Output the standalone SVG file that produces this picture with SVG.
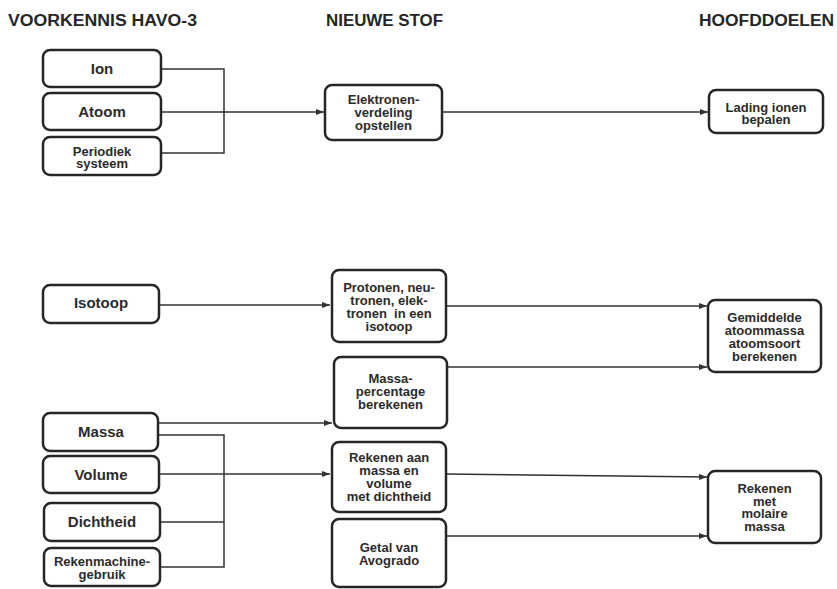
<svg xmlns="http://www.w3.org/2000/svg" width="837" height="589" viewBox="0 0 837 589">
<style>
.box{fill:#fff;stroke:#262626;stroke-width:2.5}
.t{font-family:"Liberation Sans",Arial,sans-serif;font-weight:bold;font-size:13px;fill:#2b2b2b;text-anchor:middle}
.tl{font-size:15px}
.h{font-family:"Liberation Sans",Arial,sans-serif;font-weight:bold;font-size:16px;fill:#262626}
.c{fill:none;stroke:#333;stroke-width:1.5}
</style>
<defs>
<marker id="arr" markerUnits="userSpaceOnUse" markerWidth="8" markerHeight="6" refX="8" refY="3" orient="auto">
<path d="M0,0 L8,3 L0,6 z" fill="#333"/>
</marker>
</defs>
<rect width="837" height="589" fill="#fff"/>
<g id="headers">
<text class="h" x="8" y="26" textLength="189" lengthAdjust="spacingAndGlyphs">VOORKENNIS HAVO-3</text>
<text class="h" x="326" y="26" textLength="117" lengthAdjust="spacingAndGlyphs">NIEUWE STOF</text>
<text class="h" x="699" y="26" textLength="135" lengthAdjust="spacingAndGlyphs">HOOFDDOELEN</text>
</g>
<g id="connectors">
<path class="c" d="M161,69 H224 V153 H161"/>
<path class="c" d="M161,112 H324" marker-end="url(#arr)"/>
<path class="c" d="M442,112 H708" marker-end="url(#arr)"/>
<path class="c" d="M159,305 H330" marker-end="url(#arr)"/>
<path class="c" d="M446,306 H707" marker-end="url(#arr)"/>
<path class="c" d="M447,367 H707" marker-end="url(#arr)"/>
<path class="c" d="M158,423 H332" marker-end="url(#arr)"/>
<path class="c" d="M158,435 H224 V567 H160"/>
<path class="c" d="M160,522 H224"/>
<path class="c" d="M159,474 H330" marker-end="url(#arr)"/>
<path class="c" d="M446,474 L707,477" marker-end="url(#arr)"/>
<path class="c" d="M446,536 H707" marker-end="url(#arr)"/>
</g>
<g id="ion"><rect class="box" x="43" y="50" width="118" height="37" rx="7"/><text class="t tl" x="102" y="74">Ion</text></g>
<g id="atoom"><rect class="box" x="43" y="93" width="118" height="37" rx="7"/><text class="t tl" x="102" y="117">Atoom</text></g>
<g id="periodiek"><rect class="box" x="43" y="137" width="118" height="38" rx="7"/><text class="t" x="102" y="156">Periodiek</text><text class="t" x="102" y="168">systeem</text></g>
<g id="isotoop"><rect class="box" x="43" y="285" width="116" height="38" rx="7"/><text class="t tl" x="101" y="308">Isotoop</text></g>
<g id="massa"><rect class="box" x="43" y="413" width="115" height="38" rx="7"/><text class="t tl" x="101" y="437">Massa</text></g>
<g id="volume"><rect class="box" x="43" y="456" width="116" height="37" rx="7"/><text class="t tl" x="101" y="480">Volume</text></g>
<g id="dichtheid"><rect class="box" x="44" y="503" width="116" height="38" rx="7"/><text class="t tl" x="102" y="527">Dichtheid</text></g>
<g id="rekenmachine"><rect class="box" x="44" y="548" width="116" height="38" rx="7"/><text class="t" x="102" y="566">Rekenmachine-</text><text class="t" x="102" y="579">gebruik</text></g>
<g id="elektronenverdeling"><rect class="box" x="325" y="85" width="117" height="55" rx="7"/><text class="t" x="383.5" y="104">Elektronen-</text><text class="t" x="383.5" y="117">verdeling</text><text class="t" x="383.5" y="130">opstellen</text></g>
<g id="protonen"><rect class="box" x="332" y="270" width="114" height="72" rx="7"/><text class="t" x="389" y="292">Protonen, neu-</text><text class="t" x="389" y="305">tronen, elek-</text><text class="t" x="389" y="318" xml:space="preserve">tronen  in een</text><text class="t" x="389" y="331">isotoop</text></g>
<g id="massapercentage"><rect class="box" x="334" y="357" width="113" height="71" rx="7"/><text class="t" x="390.5" y="383">Massa-</text><text class="t" x="390.5" y="396">percentage</text><text class="t" x="390.5" y="409">berekenen</text></g>
<g id="rekenenaan"><rect class="box" x="332" y="442" width="114" height="70" rx="7"/><text class="t" x="389" y="462">Rekenen aan</text><text class="t" x="389" y="475">massa en</text><text class="t" x="389" y="488">volume</text><text class="t" x="389" y="501">met dichtheid</text></g>
<g id="avogadro"><rect class="box" x="332" y="519" width="114" height="68" rx="7"/><text class="t" x="389" y="552">Getal van</text><text class="t" x="389" y="565">Avogrado</text></g>
<g id="lading"><rect class="box" x="709" y="90" width="114" height="43" rx="7"/><text class="t" x="766" y="111.5">Lading ionen</text><text class="t" x="766" y="124">bepalen</text></g>
<g id="gemiddelde"><rect class="box" x="708" y="300" width="113" height="72" rx="7"/><text class="t" x="764.5" y="322">Gemiddelde</text><text class="t" x="764.5" y="335">atoommassa</text><text class="t" x="764.5" y="348">atoomsoort</text><text class="t" x="764.5" y="361">berekenen</text></g>
<g id="molair"><rect class="box" x="708" y="471" width="113" height="72" rx="7"/><text class="t" x="764.5" y="493">Rekenen</text><text class="t" x="764.5" y="505.5">met</text><text class="t" x="764.5" y="518">molaire</text><text class="t" x="764.5" y="530.5">massa</text></g>
</svg>
